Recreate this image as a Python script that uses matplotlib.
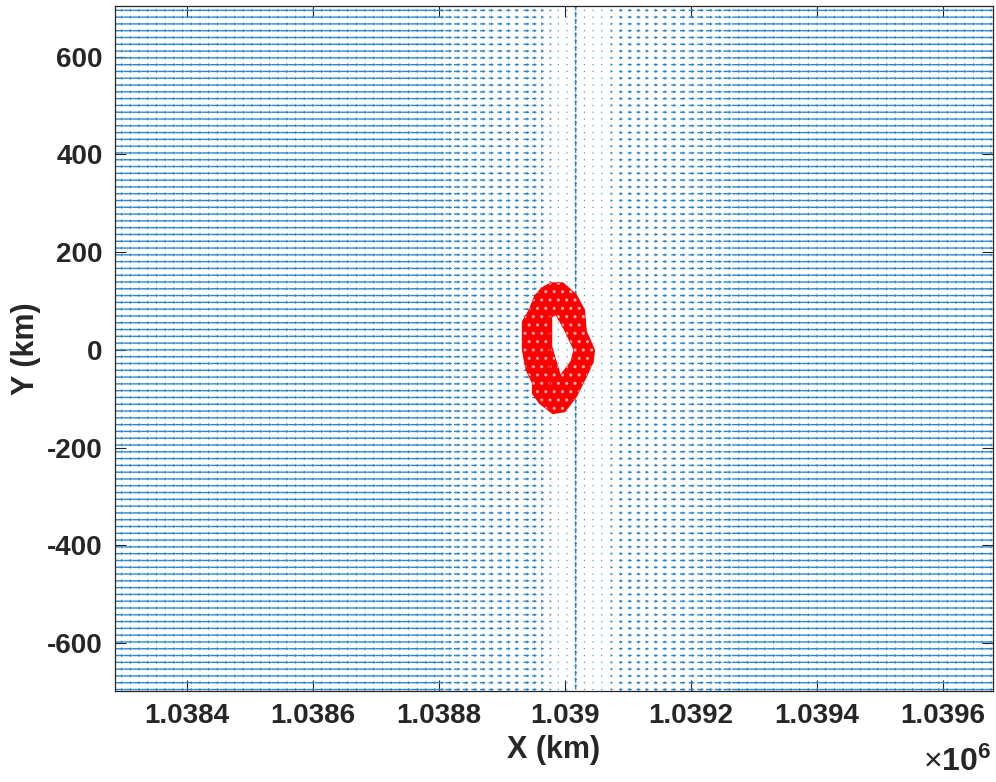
import numpy as np
import matplotlib.pyplot as plt
from matplotlib.path import Path
from matplotlib.patches import PathPatch
from matplotlib.ticker import FuncFormatter

plt.rcParams['font.family'] = ['Liberation Sans', 'DejaVu Sans']
plt.rcParams['mathtext.fontset'] = 'custom'
plt.rcParams['mathtext.rm'] = 'Liberation Sans'
plt.rcParams['mathtext.bf'] = 'Liberation Sans:bold'
plt.rcParams['axes.unicode_minus'] = False
plt.rcParams['hatch.linewidth'] = 1.0

# velocity grid (km)
x_first = 1038286.0
x_step = 13.8
n_cols = 101
y_first = -695.0
y_step = 13.9
n_rows = 101

# arrow length (in grid steps) of the columns round the middle column,
# read off the picture; every other column uses far_len
center_col = 53
col_offsets = list(range(-16, 18))
col_len = [0.9, 0.8, 0.75, 0.7, 0.7, 0.65, 0.6, 0.6, 0.55, 0.5, 0.7, 0.55, 0.38, 0.26, 0.11, 0.06,
           0.0, 0.05, 0.05, 0.07, 0.3, 0.45, 0.5, 0.5, 0.45, 0.5, 0.55, 0.6, 0.65, 0.7, 0.75, 0.8, 0.85, 0.95]
far_len = 1.05
vert_len = 0.85   # middle column points along y

# red body outline (km)
body_outer_x = [1038978, 1038997, 1039018, 1039031, 1039034, 1039047, 1039045, 1039034, 1039018, 1039000,
                1038981, 1038960, 1038949, 1038949, 1038939, 1038933, 1038933, 1038944, 1038952, 1038963]
body_outer_y = [137, 137, 113, 82, 38, 0, -24, -55, -96, -126,
                -130, -109, -89, -68, -41, 0, 58, 82, 109, 126]
body_inner_x = [1038979, 1038986, 1039000, 1039015, 1039010, 1038993, 1038979]
body_inner_y = [68, 73, 41, 0, -24, -53, 7]
body_line_x = [1038977, 1038977]
body_line_y = [70, -70]

xs = x_first + x_step * np.arange(n_cols)
ys = y_first + y_step * np.arange(n_rows)
X, Y = np.meshgrid(xs, ys)

col_steps = np.full(n_cols, far_len)
for off, L in zip(col_offsets, col_len):
    col_steps[center_col + off] = L
U = np.tile(col_steps * x_step, (n_rows, 1))
V = np.zeros_like(U)
V[:, center_col] = vert_len * y_step

fig = plt.figure(figsize=(9.96, 7.82), dpi=100)
ax = fig.add_axes([0.1155, 0.1164, 0.8815, 0.876])

ax.quiver(X, Y, U, V, angles='xy', scale_units='xy', scale=1, units='dots',
          width=1.4, headwidth=2.4, headlength=2.2, headaxislength=2.0,
          color='#2a86cc', zorder=2)

# red body (ring with a hole)
outer = list(zip(body_outer_x, body_outer_y))
inner = list(zip(body_inner_x, body_inner_y))[::-1]
verts = outer + [outer[0]] + inner + [inner[0]]
codes = ([Path.MOVETO] + [Path.LINETO] * (len(outer) - 1) + [Path.CLOSEPOLY] +
         [Path.MOVETO] + [Path.LINETO] * (len(inner) - 1) + [Path.CLOSEPOLY])
body = Path(verts, codes)
ax.add_patch(PathPatch(body, facecolor='#ff0000', edgecolor='#ff0000',
                       linewidth=1.0, zorder=3))
ax.add_patch(PathPatch(body, facecolor='none', edgecolor='#ffb0b0', hatch='..',
                       linewidth=0, zorder=3.5))
ax.plot(body_line_x, body_line_y, color='#ff0000', linewidth=1.2, zorder=4)

ax.set_xlim(1038286, 1039680)
ax.set_ylim(-698, 704)
ax.set_xticks(np.arange(1038400, 1039601, 200))
ax.set_yticks(np.arange(-600, 601, 200))
ax.xaxis.set_major_formatter(FuncFormatter(lambda v, p: '{:g}'.format(round(v / 1e6, 4))))

ax.tick_params(direction='in', length=8, width=0.8, colors='#262626',
               top=True, right=True, labelsize=20, pad=9)
for lab in ax.get_xticklabels() + ax.get_yticklabels():
    lab.set_fontweight('bold')
for s in ax.spines.values():
    s.set_color('#262626')
    s.set_linewidth(0.9)

ax.set_xlabel('X (km)', fontsize=22, fontweight='bold', color='#262626', labelpad=4)
ax.set_ylabel('Y (km)', fontsize=22, fontweight='bold', color='#262626', labelpad=4)
fig.text(957 / 996, 1 - 762 / 782, r'$\times\mathbf{10^{6}}$', fontsize=23,
         color='#262626', ha='center', va='center')

fig.savefig('out.png', dpi=100)
